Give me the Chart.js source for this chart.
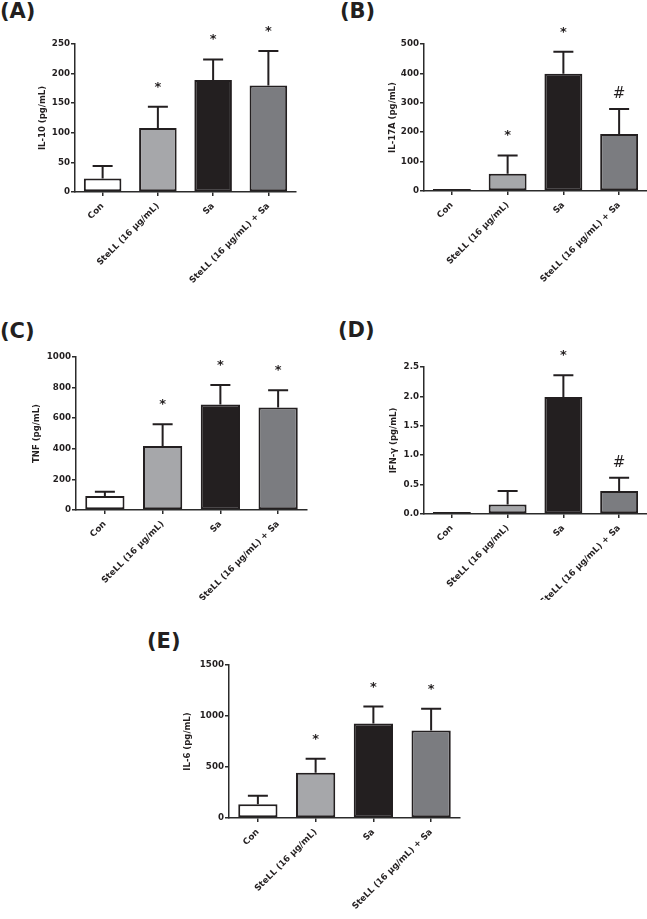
<!DOCTYPE html>
<html>
<head>
<meta charset="utf-8">
<script src="https://cdn.jsdelivr.net/npm/chart.js@4.4.1/dist/chart.umd.min.js"></script>
<style>
  html, body { margin: 0; padding: 0; background: #ffffff; }
  #wrap { position: relative; width: 647px; height: 919px; overflow: hidden; background: #fff; }
  canvas { position: absolute; }
  .plabel { position: absolute; font-family: "DejaVu Sans", sans-serif; font-weight: bold; font-size: 21px; line-height: 1; color: #231f20; white-space: nowrap; }
</style>
</head>
<body>
<div id="wrap">
  <div class="plabel" style="left:0px;top:1px;">(A)</div>
  <div class="plabel" style="left:340px;top:1px;">(B)</div>
  <div class="plabel" style="left:0px;top:321px;">(C)</div>
  <div class="plabel" style="left:338px;top:320px;">(D)</div>
  <div class="plabel" style="left:147px;top:631px;">(E)</div>
  <canvas id="cA"></canvas>
  <canvas id="cB"></canvas>
  <canvas id="cC"></canvas>
  <canvas id="cD"></canvas>
  <canvas id="cE"></canvas>
</div>
<script>
// ---------- data ----------
const categories = ['Con', 'SteLL (16 µg/mL)', 'Sa', 'SteLL (16 µg/mL) + Sa'];
const barColors = ['#ffffff', '#a6a7aa', '#231f20', '#7b7c80'];

const il10Mean = [23, 108, 189, 180];
const il10Err  = [21, 36, 35, 58];
const il10Marks = ['', '*', '*', '*'];

const il17aMean = [3, 59, 399, 194];
const il17aErr  = [0, 62, 75, 85];
const il17aMarks = ['', '*', '*', '#'];

const tnfMean = [92, 418, 690, 670];
const tnfErr  = [28, 143, 127, 112];
const tnfMarks = ['', '*', '*', '*'];

const ifngMean = [0.01, 0.16, 1.99, 0.39];
const ifngErr  = [0, 0.23, 0.37, 0.225];
const ifngMarks = ['', '', '*', '#'];

const il6Mean = [134, 443, 926, 858];
const il6Err  = [84, 137, 166, 212];
const il6Marks = ['', '*', '*', '*'];

const yTitles = ['IL-10 (pg/mL)', 'IL-17A (pg/mL)', 'TNF (pg/mL)', 'IFN-γ (pg/mL)', 'IL-6 (pg/mL)'];
const yMax = [250, 500, 1000, 2.5, 1500];
const yStep = [50, 100, 200, 0.5, 500];

// ---------- layout (canvas boxes & chart-area geometry) ----------
const panels = [
  { id: 'cA', mean: il10Mean, err: il10Err, marks: il10Marks, title: yTitles[0], max: yMax[0], step: yStep[0], dec: 0,
    box: [0, 0, 320, 300], pl: 37.9, wY: 37.1, pt: 44, pr: 24, hX: 108 },
  { id: 'cB', mean: il17aMean, err: il17aErr, marks: il17aMarks, title: yTitles[1], max: yMax[1], step: yStep[1], dec: 0,
    box: [320, 0, 327, 300], pl: 67.9, wY: 36.1, pt: 44, pr: 0, hX: 109 },
  { id: 'cC', mean: tnfMean, err: tnfErr, marks: tnfMarks, title: yTitles[2], max: yMax[2], step: yStep[2], dec: 0,
    box: [0, 300, 320, 300], pl: 31.9, wY: 44.1, pt: 57, pr: 13, hX: 90 },
  { id: 'cD', mean: ifngMean, err: ifngErr, marks: ifngMarks, title: yTitles[3], max: yMax[3], step: yStep[3], dec: 1,
    box: [320, 300, 327, 300], pl: 68.9, wY: 35.1, pt: 67, pr: 0, hX: 86 },
  { id: 'cE', mean: il6Mean, err: il6Err, marks: il6Marks, title: yTitles[4], max: yMax[4], step: yStep[4], dec: 0,
    box: [140, 610, 340, 309], pl: 42.9, wY: 46.1, pt: 55, pr: 20, hX: 101 }
];

const INK = '#231f20';
const AXIS = '#2b2b2b';

const errPlugin = {
  id: 'errMarks',
  afterDatasetsDraw(chart) {
    const p = chart.options.plugins.errMarks;
    const ctx = chart.ctx;
    const y = chart.scales.y;
    const meta = chart.getDatasetMeta(0);
    ctx.save();
    ctx.strokeStyle = INK;
    ctx.fillStyle = INK;
    ctx.lineWidth = 2;
    meta.data.forEach((bar, i) => {
      const v = p.mean[i], e = p.err[i];
      const cx = bar.x;
      const yBar = y.getPixelForValue(v);
      const yTop = y.getPixelForValue(v + e);
      if (e > 0) {
        ctx.beginPath();
        ctx.moveTo(cx, yBar);
        ctx.lineTo(cx, yTop);
        ctx.moveTo(cx - 10, yTop);
        ctx.lineTo(cx + 10, yTop);
        ctx.stroke();
      }
      const m = p.marks[i];
      if (m) {
        ctx.textAlign = 'center';
        ctx.textBaseline = 'alphabetic';
        if (m === '#') {
          ctx.font = '15px "DejaVu Sans", sans-serif';
          ctx.fillText(m, cx, yTop - 11);
        } else {
          ctx.font = 'bold 13px "DejaVu Sans", sans-serif';
          ctx.fillText(m, cx, yTop - 16);
        }
      }
    });
    ctx.restore();
  }
};

panels.forEach(pn => {
  const cv = document.getElementById(pn.id);
  const [bx, by, bw, bh] = pn.box;
  cv.width = bw; cv.height = bh;
  cv.style.left = bx + 'px'; cv.style.top = by + 'px';
  cv.style.width = bw + 'px'; cv.style.height = bh + 'px';

  new Chart(cv, {
    type: 'bar',
    data: {
      labels: categories,
      datasets: [{
        data: pn.mean,
        backgroundColor: barColors,
        borderColor: INK,
        borderWidth: 2,
        borderSkipped: false,
        minBarLength: 2,
        barPercentage: 0.68,
        categoryPercentage: 1.0
      }]
    },
    options: {
      responsive: false,
      animation: false,
      devicePixelRatio: 1,
      layout: { padding: { left: pn.pl, top: pn.pt, right: pn.pr, bottom: 0 } },
      plugins: {
        legend: { display: false },
        tooltip: { enabled: false },
        errMarks: { mean: pn.mean, err: pn.err, marks: pn.marks }
      },
      scales: {
        x: {
          type: 'category',
          offset: true,
          afterFit: (s) => { s.height = pn.hX; },
          grid: { display: true, drawOnChartArea: false, drawTicks: true, tickLength: 4, offset: false, color: AXIS, lineWidth: 1.5 },
          border: { display: true, color: AXIS, width: 1.5 },
          ticks: {
            autoSkip: false, minRotation: 45, maxRotation: 45, padding: 5,
            color: INK,
            font: { family: '"DejaVu Sans", sans-serif', weight: 'bold', size: 8.7 }
          }
        },
        y: {
          min: 0, max: pn.max,
          afterFit: (s) => { s.width = pn.wY; },
          grid: { display: true, drawOnChartArea: false, drawTicks: true, tickLength: 4, color: AXIS, lineWidth: 1.5 },
          border: { display: true, color: AXIS, width: 1.5 },
          ticks: {
            stepSize: pn.step, padding: 1, color: INK,
            font: { family: '"DejaVu Sans", sans-serif', weight: 'bold', size: 8.7 }
            , callback: (v) => Number(v).toFixed(pn.dec)
          },
          title: {
            display: true, text: pn.title, color: INK, padding: 0,
            font: { family: '"DejaVu Sans", sans-serif', weight: 'bold', size: 8.5, lineHeight: 1.2 }
          }
        }
      }
    },
    plugins: [errPlugin]
  });
});
</script>
</body>
</html>
